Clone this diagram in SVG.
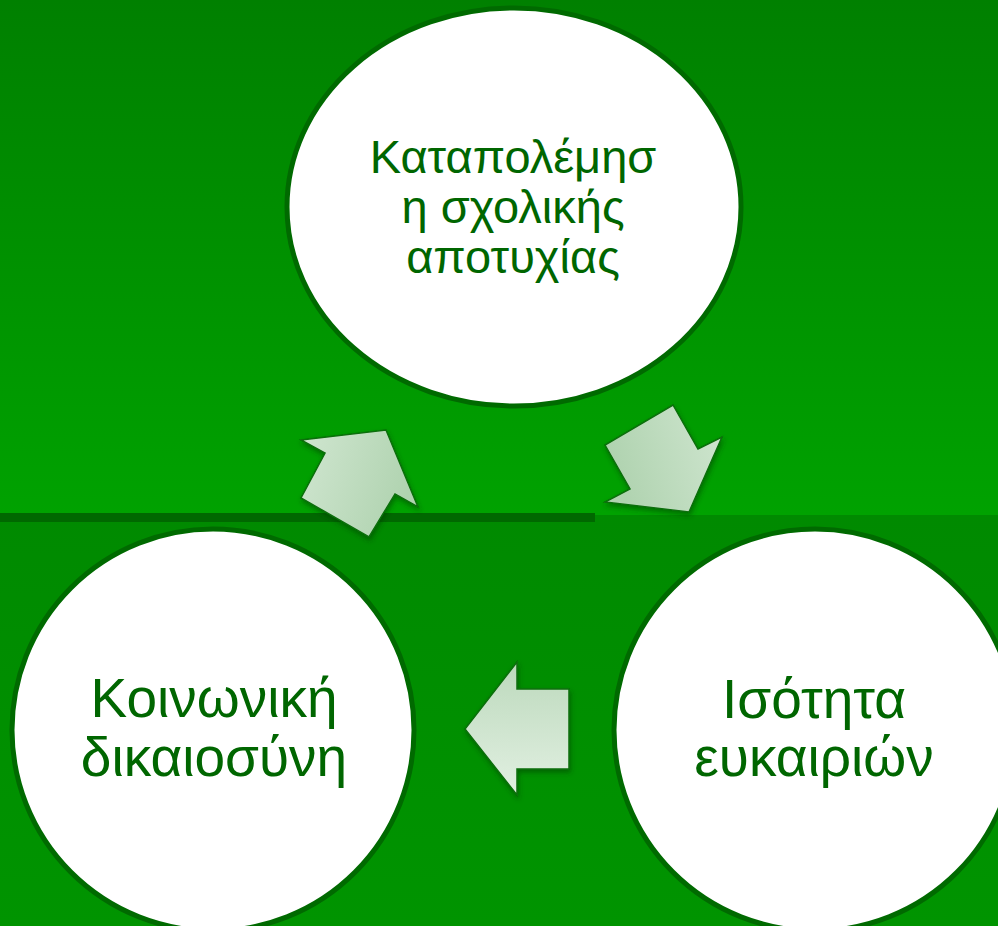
<svg xmlns="http://www.w3.org/2000/svg" width="998" height="926" viewBox="0 0 998 926">
<defs>
<linearGradient id="bgTop" x1="0" y1="0" x2="0" y2="1">
<stop offset="0" stop-color="#008000"/>
<stop offset="1" stop-color="#00a200"/>
</linearGradient>
<linearGradient id="bgBot" x1="0" y1="0" x2="0" y2="1">
<stop offset="0" stop-color="#008a00"/>
<stop offset="1" stop-color="#009400"/>
</linearGradient>
<linearGradient id="gLeft" x1="0" y1="0" x2="0" y2="1">
<stop offset="0" stop-color="#bcd9bc"/>
<stop offset="1" stop-color="#e2f0e2"/>
</linearGradient>
<linearGradient id="gUp" x1="0" y1="0" x2="1" y2="0.3">
<stop offset="0" stop-color="#d0e6d0"/>
<stop offset="1" stop-color="#b0d3b0"/>
</linearGradient>
<linearGradient id="gDown" x1="0" y1="0.3" x2="1" y2="0">
<stop offset="0" stop-color="#b0d3b0"/>
<stop offset="1" stop-color="#d0e6d0"/>
</linearGradient>
<filter id="sh" x="-20%" y="-20%" width="140%" height="140%">
<feDropShadow dx="1" dy="3" stdDeviation="2.5" flood-color="#003300" flood-opacity="0.45"/>
</filter>
<style>
.node{fill:#ffffff;stroke:#006a00;stroke-width:5}
.lbl{font-family:"Liberation Sans",Arial,sans-serif;fill:#006600;text-anchor:middle}
.arrow{stroke:#0a6e0a;stroke-width:1.5;stroke-linejoin:miter;filter:url(#sh)}
</style>
</defs>
<rect x="0" y="0" width="998" height="515" fill="url(#bgTop)"/>
<rect x="0" y="515" width="998" height="411" fill="url(#bgBot)"/>
<rect x="0" y="513" width="595" height="9" fill="#006800"/>

<g id="node-top">
<ellipse class="node" cx="514" cy="207" rx="227" ry="199"/>
<text class="lbl" font-size="47"><tspan x="513" y="173">Καταπολέμησ</tspan><tspan x="513" y="223">η σχολικής</tspan><tspan x="513" y="273">αποτυχίας</tspan></text>
</g>
<g id="node-right">
<circle class="node" cx="815" cy="730" r="201"/>
<text class="lbl" font-size="55"><tspan x="814" y="718">Ισότητα</tspan><tspan x="814" y="776">ευκαιριών</tspan></text>
</g>
<g id="node-left">
<circle class="node" cx="213" cy="730" r="201"/>
<text class="lbl" font-size="55"><tspan x="214" y="717">Κοινωνική</tspan><tspan x="214" y="776">δικαιοσύνη</tspan></text>
</g>

<g id="connectors">
<polygon class="arrow" fill="url(#gDown)" points="689,512 605,502 630,489 605,445 673,405 698,449 722,437"/>
<polygon class="arrow" fill="url(#gLeft)" points="465,729 517,662 517,689 569,689 569,769 517,769 517,795"/>
<polygon class="arrow" fill="url(#gUp)" points="386,430 418,507 395,494 369,537 301,498 325,453 301,440"/>
</g>
</svg>
